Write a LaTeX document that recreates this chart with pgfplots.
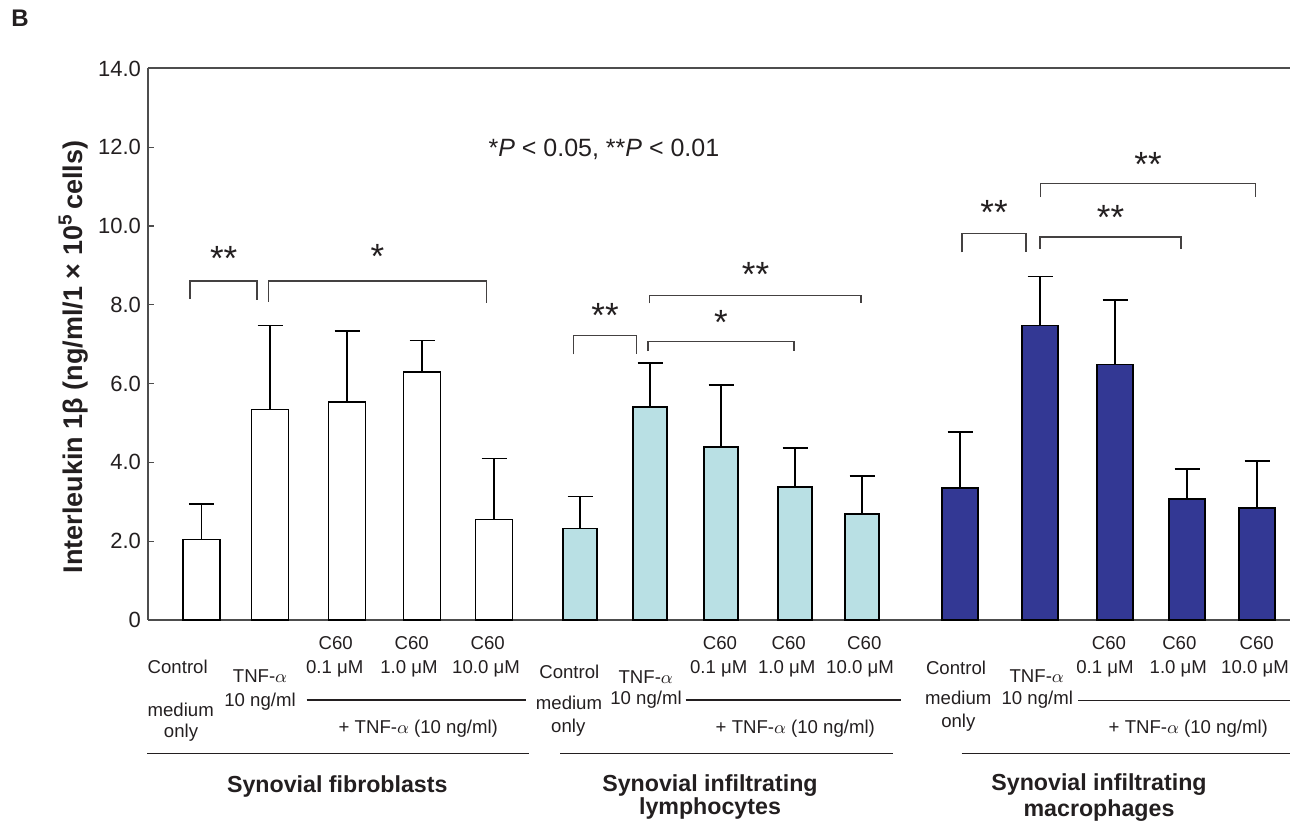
\documentclass[border=0pt]{standalone}
\usepackage{pgfplots}
\pgfplotsset{compat=1.18}
\usepackage{fontspec}
\setmainfont{Liberation Sans}
\definecolor{ink}{HTML}{231F20}
\definecolor{lightblue}{HTML}{B9E0E4}
\definecolor{darkblue}{HTML}{333894}
\definecolor{axisgray}{HTML}{4D4D4D}
\newcommand\cat{\fontsize{9.3}{11}\selectfont}
\newcommand\grp{\fontsize{11.6}{14}\selectfont\bfseries}
\newcommand\sig{\fontsize{12.5}{14}\selectfont}
\newcommand\stars{\fontsize{17.5}{19}\selectfont}

% mean and SD (upper error) per bar, x = horizontal position
\pgfplotstableread{
x     y     e
201.5 2.04  0.91
270   5.34  2.14
347   5.54  1.80
422   6.29  0.81
494   2.55  1.55
}\fibro
\pgfplotstableread{
x     y     e
580   2.32  0.82
650   5.40  1.12
721   4.39  1.58
795   3.37  1.00
862   2.69  0.96
}\lympho
\pgfplotstableread{
x     y     e
960   3.35  1.42
1040  7.48  1.24
1115  6.49  1.64
1187  3.07  0.77
1257  2.84  1.19
}\macro

\begin{document}
\begin{tikzpicture}
\path[use as bounding box] (-74pt,-101.5pt) rectangle (571pt,310pt);
\begin{axis}[
  at={(0,0)}, anchor=south west,
  scale only axis, width=571pt, height=275.75pt,
  xmin=148, xmax=1290, ymin=0, ymax=14,
  clip=false,
  axis x line*=bottom, axis y line*=left,
  axis line style={draw=axisgray, line width=1pt, -},
  xtick=\empty,
  ytick={0,2,...,14},
  yticklabels={0,2.0,4.0,6.0,8.0,10.0,12.0,14.0},
  tick align=inside, major tick length=3pt,
  tick style={draw=axisgray, line width=0.6pt},
  yticklabel style={font=\fontsize{11}{13}\selectfont, text=ink},
  /pgf/number format/assume math mode=true,
  every axis plot/.append style={ybar, bar shift=0pt, line width=0.8pt, draw=black},
  error bars/y dir=plus, error bars/y explicit,
  error bars/error bar style={line width=0.8pt, draw=black},
  error bars/error mark options={rotate=90, mark size=6.25pt, line width=0.8pt, draw=black},
]
\addplot[bar width=37, fill=white] table[x=x, y=y, y error=e] {\fibro};
\addplot[bar width=34, fill=lightblue] table[x=x, y=y, y error=e] {\lympho};
\addplot[bar width=36, fill=darkblue] table[x=x, y=y, y error=e] {\macro};

\draw[draw=axisgray, line width=1pt] (axis cs:148,14) -- (axis cs:1290,14);

% significance brackets
\begin{scope}[line width=0.7pt, draw=ink!85]
\draw (axis cs:190,8.147) -- (axis cs:190,8.604) -- (axis cs:257,8.604) -- (axis cs:257,8.122);
\draw (axis cs:268.7,8.079) -- (axis cs:268.7,8.604) -- (axis cs:486.7,8.604) -- (axis cs:486.7,8.053);
\draw (axis cs:573.7,6.744) -- (axis cs:573.7,7.226) -- (axis cs:636.3,7.226) -- (axis cs:636.3,6.744);
\draw (axis cs:648,6.827) -- (axis cs:648,7.074) -- (axis cs:794,7.074) -- (axis cs:794,6.827);
\draw (axis cs:649.7,8.038) -- (axis cs:649.7,8.241) -- (axis cs:861,8.241) -- (axis cs:861,8.038);
\draw (axis cs:962,9.332) -- (axis cs:962,9.805) -- (axis cs:1026,9.805) -- (axis cs:1026,9.332);
\draw (axis cs:1040,9.424) -- (axis cs:1040,9.721) -- (axis cs:1181,9.721) -- (axis cs:1181,9.424);
\draw (axis cs:1040.3,10.736) -- (axis cs:1040.3,11.084) -- (axis cs:1255.7,11.084) -- (axis cs:1255.7,10.736);
\end{scope}
\end{axis}

% annotations in reference pixel coordinates
\begin{scope}[x=0.5pt, y=-0.5pt, shift={(-74pt,310pt)}, every node/.style={text=ink, inner sep=0pt}]
\node[anchor=base, font=\fontsize{12}{14}\selectfont\bfseries] at (20,27) {B};
\node[anchor=base, rotate=90, font=\fontsize{13.5}{15}\selectfont\bfseries] at (82,357)
  {Interleukin 1β (ng/ml/1 × 10\textsuperscript{5}\,cells)};
\node[anchor=base, font=\sig] at (603.9,156.7) {*\textit{P} < 0.05, **\textit{P} < 0.01};

\node[font=\stars] at (223.7,258.7) {**};
\node[font=\stars] at (377.5,256.5) {*};
\node[font=\stars] at (605,315.3) {**};
\node[font=\stars] at (721,322) {*};
\node[font=\stars] at (755.5,274.2) {**};
\node[font=\stars] at (994,212) {**};
\node[font=\stars] at (1110.5,217.8) {**};
\node[font=\stars] at (1148,164.7) {**};

\begin{scope}[every node/.append style={anchor=base, font=\cat}]
% fibroblasts
\node at (177.7,673.3) {Control};
\node at (180.7,716.7) {medium};
\node at (181,738) {only};
\node at (260,682.7) {TNF-$\alpha$};
\node at (260,706.7) {10 ng/ml};
\node at (335.7,649.3) {C60}; \node at (334.7,673.3) {0.1 μM};
\node at (411.7,649.3) {C60}; \node at (409,673.3) {1.0 μM};
\node at (487.7,649.3) {C60}; \node at (486,673.3) {10.0 μM};
\node at (418.3,733.3) {+ TNF-$\alpha$ (10 ng/ml)};
% lymphocytes
\node at (569.3,678.3) {Control};
\node at (569,710) {medium};
\node at (568.3,732.7) {only};
\node at (645.7,683.3) {TNF-$\alpha$};
\node at (646,705) {10 ng/ml};
\node at (720,649.3) {C60}; \node at (718.7,673.3) {0.1 μM};
\node at (788.7,649.3) {C60}; \node at (786.7,673.3) {1.0 μM};
\node at (864.3,649.3) {C60}; \node at (860,673.3) {10.0 μM};
\node at (795.3,733.3) {+ TNF-$\alpha$ (10 ng/ml)};
% macrophages
\node at (956,675) {Control};
\node at (958.3,705) {medium};
\node at (958.3,727.3) {only};
\node at (1036.7,682.7) {TNF-$\alpha$};
\node at (1037.3,705) {10 ng/ml};
\node at (1109,649.3) {C60}; \node at (1105,673.3) {0.1 μM};
\node at (1179.3,649.3) {C60}; \node at (1178.3,673.3) {1.0 μM};
\node at (1256.7,649.3) {C60}; \node at (1255,673.3) {10.0 μM};
\node at (1188.3,734) {+ TNF-$\alpha$ (10 ng/ml)};
\end{scope}

\begin{scope}[every node/.append style={anchor=base, font=\grp}]
\node at (337.3,792.7) {Synovial fibroblasts};
\node at (710,791.7) {Synovial infiltrating};
\node at (710,815) {lymphocytes};
\node at (1099,790.7) {Synovial infiltrating};
\node at (1099,816.7) {macrophages};
\end{scope}

\begin{scope}[draw=ink, line width=0.7pt]
\draw (306.7,700) -- (525.7,700);
\draw (147.3,753.3) -- (528.7,753.3);
\draw (685.7,700) -- (901,700);
\draw (560,753.3) -- (892.7,753.3);
\draw (1078.3,700.7) -- (1290,700.7);
\draw (961.7,753.3) -- (1290,753.3);
\end{scope}
\end{scope}
\end{tikzpicture}
\end{document}
